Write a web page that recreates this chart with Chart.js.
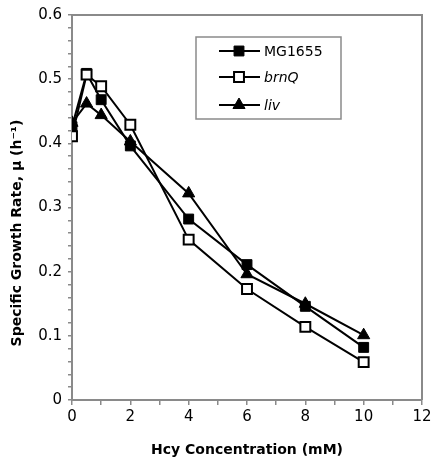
<!DOCTYPE html>
<html>
<head>
<meta charset="utf-8">
<script src="https://cdn.jsdelivr.net/npm/chart.js@4.4.0/dist/chart.umd.min.js"></script>
<style>
  html, body { margin: 0; padding: 0; background: #fff; }
  #wrap { width: 437px; height: 463px; }
</style>
</head>
<body>
<div id="wrap"><canvas id="growth"></canvas></div>
<script>
// Hcy concentrations (mM)
const hcy = [0, 0.5, 1, 2, 4, 6, 8, 10];
// specific growth rate per strain
const mg1655 = [0.426, 0.509, 0.468, 0.396, 0.282, 0.211, 0.146, 0.082];
const brnQ = [0.411, 0.507, 0.489, 0.429, 0.250, 0.173, 0.114, 0.059];
const liv = [0.432, 0.462, 0.444, 0.403, 0.322, 0.196, 0.150, 0.101];

const xTicks = [0, 2, 4, 6, 8, 10, 12];
const yTicks = [0, 0.1, 0.2, 0.3, 0.4, 0.5, 0.6];

const pts = (ys) => hcy.map((x, i) => ({ x: x, y: ys[i] }));
const axisGray = '#8a8a8a';
const tickFont = { family: 'DejaVu Sans', size: 15 };

// frame, legend box and y title drawn by hand
const extras = {
    id: 'extras',
    afterDraw(chart) {
        const ctx = chart.ctx;
        const a = chart.chartArea;
        ctx.save();
        // top and right frame
        ctx.strokeStyle = axisGray;
        ctx.lineWidth = 2;
        ctx.beginPath();
        ctx.moveTo(a.left, a.top);
        ctx.lineTo(a.right, a.top);
        ctx.lineTo(a.right, a.bottom);
        ctx.stroke();

        // legend
        ctx.lineWidth = 1.5;
        ctx.strokeRect(196, 37, 145, 82);
        const rows = [51, 77, 105];
        chart.data.datasets.forEach((ds, i) => {
            const y = rows[i];
            ctx.strokeStyle = '#000';
            ctx.lineWidth = 2;
            ctx.beginPath();
            ctx.moveTo(219, y);
            ctx.lineTo(260, y);
            ctx.stroke();
            ctx.fillStyle = ds.pointBackgroundColor;
            ctx.strokeStyle = ds.pointBorderColor;
            ctx.lineWidth = ds.pointBorderWidth;
            Chart.helpers.drawPoint(ctx, {
                pointStyle: ds.pointStyle,
                radius: ds.pointRadius,
                borderWidth: ds.pointBorderWidth
            }, 239, y);
            ctx.fillStyle = '#000';
            ctx.textBaseline = 'middle';
            ctx.textAlign = 'left';
            ctx.font = (ds.italic ? 'italic ' : '') + '14px "DejaVu Sans"';
            ctx.fillText(ds.label, 264, y + 1);
        });

        // y axis title
        ctx.translate(17, 233);
        ctx.rotate(-Math.PI / 2);
        ctx.font = 'bold 14px "DejaVu Sans"';
        ctx.textAlign = 'center';
        ctx.textBaseline = 'middle';
        ctx.fillStyle = '#000';
        ctx.fillText('Specific Growth Rate, \u03bc (h\u207b\u00b9)', 0, 0);
        ctx.restore();
    }
};

const ctx = document.getElementById('growth').getContext('2d');
new Chart(ctx, {
    type: 'line',
    data: {
        datasets: [{
            label: 'MG1655',
            data: pts(mg1655),
            borderColor: '#000',
            borderWidth: 2,
            pointStyle: 'rect',
            pointRadius: 7,
            pointHoverRadius: 7,
            pointBackgroundColor: '#000',
            pointBorderColor: '#000',
            pointBorderWidth: 1,
            order: 2
        }, {
            label: 'brnQ',
            italic: true,
            data: pts(brnQ),
            borderColor: '#000',
            borderWidth: 2,
            pointStyle: 'rect',
            pointRadius: 7,
            pointHoverRadius: 7,
            pointBackgroundColor: '#fff',
            pointBorderColor: '#000',
            pointBorderWidth: 2,
            order: 1
        }, {
            label: 'liv',
            italic: true,
            data: pts(liv),
            borderColor: '#000',
            borderWidth: 2,
            pointStyle: 'triangle',
            pointRadius: 7,
            pointHoverRadius: 7,
            pointBackgroundColor: '#000',
            pointBorderColor: '#000',
            pointBorderWidth: 1,
            order: 3
        }]
    },
    options: {
        responsive: true,
        maintainAspectRatio: false,
        animation: false,
        layout: { padding: { top: 12, right: 15, left: 0, bottom: 0 } },
        plugins: {
            legend: { display: false },
            tooltip: { enabled: false }
        },
        scales: {
            x: {
                type: 'linear',
                min: 0,
                max: 12,
                afterFit: (s) => { s.height = 63; },
                ticks: {
                    stepSize: 1,
                    autoSkip: false,
                    maxRotation: 0,
                    color: '#000',
                    font: tickFont,
                    padding: 3,
                    callback: (v) => xTicks.includes(v) ? String(v) : ''
                },
                grid: { drawOnChartArea: false, tickLength: 5, color: axisGray, lineWidth: 1.5 },
                border: { color: axisGray, width: 2 },
                title: {
                    display: true,
                    text: 'Hcy Concentration (mM)',
                    color: '#000',
                    font: { family: 'DejaVu Sans', size: 14, weight: 'bold' },
                    padding: { top: 15 }
                }
            },
            y: {
                min: 0,
                max: 0.6,
                afterFit: (s) => { s.width = 72; },
                ticks: {
                    stepSize: 0.02,
                    autoSkip: false,
                    color: '#000',
                    font: tickFont,
                    padding: 6,
                    callback: (v) => {
                        const hit = yTicks.find(t => Math.abs(t - v) < 1e-6);
                        return hit === undefined ? '' : String(hit);
                    }
                },
                grid: { drawOnChartArea: false, tickLength: 4, color: axisGray, lineWidth: 1.5 },
                border: { color: axisGray, width: 2 }
            }
        }
    },
    plugins: [extras]
});
</script>
</body>
</html>
